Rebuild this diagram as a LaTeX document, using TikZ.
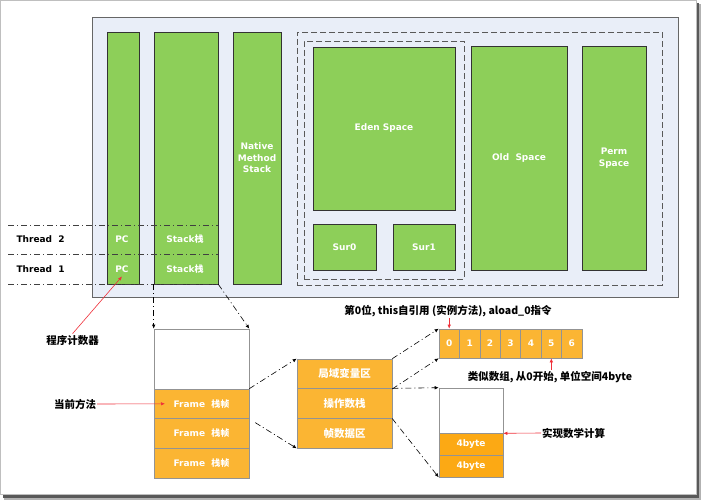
\documentclass[tikz,border=0pt]{standalone}
\usepackage{fontspec}
\setmainfont{DejaVu Sans}
\newfontfamily\cjk{Noto Sans CJK SC}
\usetikzlibrary{arrows.meta}

\definecolor{jvmbg}{HTML}{E9EEF8}
\definecolor{jvmgreen}{HTML}{8DCF59}
\definecolor{frameorange}{HTML}{FBB533}
\definecolor{byteorange}{HTML}{FCA914}
\definecolor{notered}{HTML}{F0303A}

\begin{document}
\begin{tikzpicture}[x=1pt, y=-1pt, >={Latex[length=4pt, width=3.5pt]}]
  % Styles
  \tikzstyle{area}=[rectangle, draw=black!80, fill=jvmgreen, line width=0.6pt, inner sep=0pt, text=white, align=center, font=\bfseries\fontsize{9}{11.5}\selectfont]
  \tikzstyle{region}=[rectangle, draw=black!65, dash pattern=on 6pt off 3pt, line width=0.7pt, inner sep=0pt]
  \tikzstyle{slot}=[rectangle, draw=gray!85, fill=frameorange, line width=0.6pt, inner sep=0pt, text=white, font=\bfseries\fontsize{9}{11}\selectfont]
  \tikzstyle{blank}=[rectangle, draw=gray!85, fill=white, line width=0.6pt, inner sep=0pt]
  \tikzstyle{link}=[->, dash pattern=on 6pt off 3pt on 1pt off 3pt, line width=0.6pt]
  \tikzstyle{divider}=[black!75, dash pattern=on 6pt off 3pt on 1pt off 3pt, line width=0.6pt]
  \tikzstyle{remark}=[font=\cjk\bfseries\fontsize{10.5}{12}\selectfont, inner sep=1pt]
  \tikzstyle{pointer}=[->, notered, line width=0.6pt]
  \useasboundingbox (0,0) rectangle (701,500);

  % Frame
  \fill[black!30] (4,4) rectangle (701,500);
  \fill[black!65] (3,3) rectangle (699,498);
  \draw[black!25, fill=white] (0.5,0.5) rectangle (696.5,494.5);

  % JVM memory
  \node[rectangle, draw=black!60, fill=jvmbg, line width=0.7pt, minimum width=586pt, minimum height=280pt] (jvm) at (385,157) {};
  \node[area, minimum width=32pt, minimum height=252pt] (pccol) at (123,158) {};
  \node[area, minimum width=64pt, minimum height=252pt] (stackcol) at (186,158) {};
  \node[area, minimum width=48pt, minimum height=252pt] (native) at (257,158) {Native\\Method\\Stack};

  % Heap
  \node[region, minimum width=365pt, minimum height=253pt] (heap) at (479.5,158.5) {};
  \node[region, minimum width=160pt, minimum height=238pt] (young) at (384,160) {};
  \node[area, minimum width=142pt, minimum height=163pt] (eden) at (384,128.5) {Eden Space};
  \node[area, minimum width=63pt, minimum height=46pt] (sur0) at (344.5,247) {Sur0};
  \node[area, minimum width=62pt, minimum height=46pt] (sur1) at (424,247) {Sur1};
  \node[area, minimum width=96pt, minimum height=224pt] (old) at (519,158) {Old\ \ Space};
  \node[area, minimum width=64pt, minimum height=224pt] (perm) at (614,158) {Perm\\Space};

  % Threads
  \draw[divider] (8,225) -- (218,225);
  \draw[divider] (8,254) -- (218,254);
  \draw[divider] (8,284) -- (218,284);
  \node[anchor=west, font=\bfseries\fontsize{9}{11}\selectfont] (thread2) at (13,239.5) {Thread\ \ 2};
  \node[anchor=west, font=\bfseries\fontsize{9}{11}\selectfont] (thread1) at (13,269.5) {Thread\ \ 1};
  \node[text=white, font=\bfseries\fontsize{9}{11}\selectfont] (pc2) at (122,239.5) {PC};
  \node[text=white, font=\bfseries\fontsize{9}{11}\selectfont] (pc1) at (122,269.5) {PC};
  \node[text=white, font=\bfseries\fontsize{9}{11}\selectfont] (stk2) at (185,239.5) {Stack{\cjk 栈}};
  \node[text=white, font=\bfseries\fontsize{9}{11}\selectfont] (stk1) at (185,269.5) {Stack{\cjk 栈}};

  % Stack frames
  \node[blank, minimum width=95pt, minimum height=60pt] (stacktop) at (201.5,359) {};
  \node[slot, minimum width=95pt, minimum height=29.67pt] (frame1) at (201.5,403.8) {Frame\ \ {\cjk 栈帧}};
  \node[slot, minimum width=95pt, minimum height=29.67pt] (frame2) at (201.5,433.5) {Frame\ \ {\cjk 栈帧}};
  \node[slot, minimum width=95pt, minimum height=29.67pt] (frame3) at (201.5,463.2) {Frame\ \ {\cjk 栈帧}};

  % Frame parts
  \node[slot, minimum width=95pt, minimum height=29.67pt, font=\cjk\bfseries\fontsize{10.5}{12}\selectfont] (locvar) at (344.5,373.8) {局域变量区};
  \node[slot, minimum width=95pt, minimum height=29.67pt, font=\cjk\bfseries\fontsize{10.5}{12}\selectfont] (opstack) at (344.5,403.5) {操作数栈};
  \node[slot, minimum width=95pt, minimum height=29.67pt, font=\cjk\bfseries\fontsize{10.5}{12}\selectfont] (framedata) at (344.5,433.2) {帧数据区};

  % Local variable slots
  \foreach \i in {0,...,6}
    \node[slot, minimum width=20.43pt, minimum height=29pt] (c\i) at ({449.2+20.43*\i},343.5) {\i};

  % Operand stack
  \node[blank, minimum width=64pt, minimum height=45pt] (optop) at (471,410.5) {};
  \node[slot, fill=byteorange, minimum width=64pt, minimum height=22pt] (byte1) at (471,444) {4byte};
  \node[slot, fill=byteorange, minimum width=64pt, minimum height=22pt] (byte2) at (471,466) {4byte};

  % Links
  \draw[link] (stackcol.south west) -- (stacktop.north west);
  \draw[link] (stackcol.south east) -- (stacktop.north east);
  \draw[link] (frame1.north east) -- (locvar.north west);
  \draw[link, shorten <=7pt] (frame1.south east) -- (framedata.south west);
  \draw[link] (locvar.north east) -- (c0.north west);
  \draw[link] (locvar.south east) -- (c0.south west);
  \draw[link] (opstack.north east) -- (optop.north west);
  \draw[link] (opstack.south east) -- (byte2.south west);

  % Notes
  \node[remark] (pclabel) at (72.5,340) {程序计数器};
  \node[remark] (curlabel) at (75,404) {当前方法};
  \coordinate (curtip) at (165,403.8);
  \node[remark] (slotlabel) at (448,311) {第0位, this自引用 (实例方法), aload\_0指令};
  \node[remark] (arraylabel) at (550,377) {类似数组, 从0开始, 单位空间4byte};
  \node[remark, anchor=west] (mathlabel) at (541,433) {实现数学计算};
  \draw[pointer] (pclabel.north) -- (pc1.south);
  \draw[pointer] (curlabel.east) -- (curtip);
  \draw[pointer] (slotlabel.south -| c0) -- (c0.north);
  \draw[pointer] (arraylabel.north -| c5) -- (c5.south);
  \draw[pointer] (mathlabel.west) -- (optop.south east);
\end{tikzpicture}
\end{document}
